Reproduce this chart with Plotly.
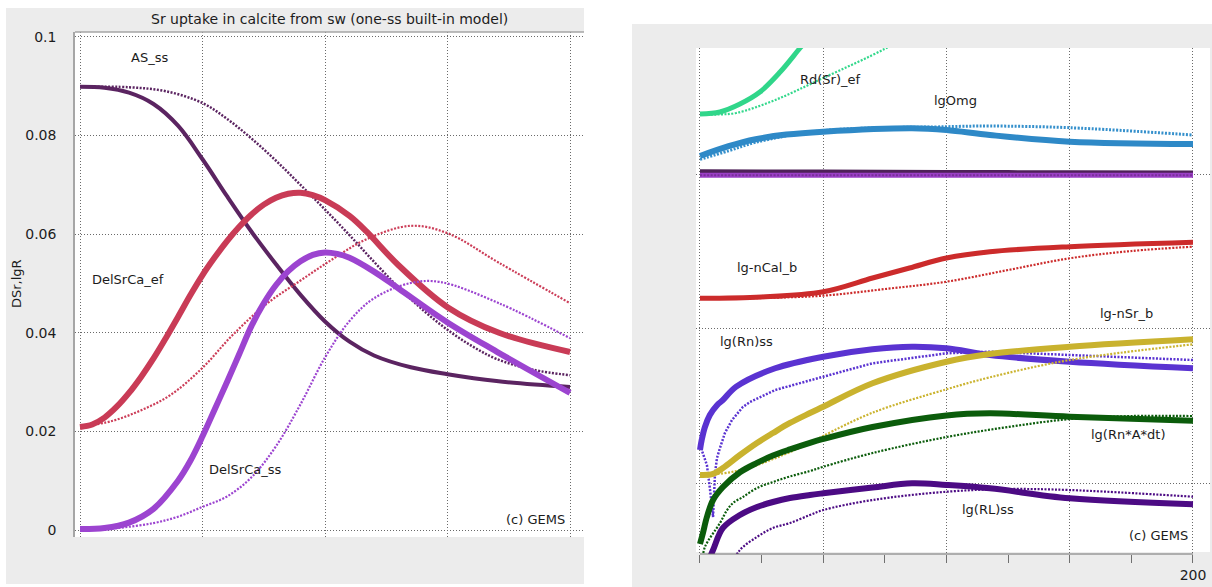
import plotly.graph_objects as go

W, H = 1212, 587

# ---------------- left panel: Sr distribution (DSr, lgR) vs time ----------------
t_as_ss = [0, 10, 20, 30, 40, 50, 60, 70, 80, 90, 100, 110, 120, 135, 150, 170, 200]
as_ss = [0.0899, 0.0897, 0.0887, 0.0864, 0.0820, 0.0752, 0.0677, 0.0605, 0.0539,
         0.0477, 0.0423, 0.0382, 0.0354, 0.0330, 0.0316, 0.0302, 0.0290]
t_as_ss_b = [0, 20, 35, 50, 60, 70, 80, 90, 100, 110, 120, 130, 140, 150, 160, 170, 185, 200]
as_ss_b = [0.0899, 0.0898, 0.0890, 0.0866, 0.0834, 0.0794, 0.0749, 0.0700, 0.0650,
           0.0598, 0.0544, 0.0492, 0.0446, 0.0406, 0.0373, 0.0347, 0.0325, 0.0314]

t_ef = [0, 5, 10, 15, 20, 25, 30, 35, 40, 45, 50, 55, 60, 65, 70, 75, 80, 85, 90, 95,
        100, 110, 117, 130, 150, 171, 200]
del_srca_ef = [0.0209, 0.0214, 0.0228, 0.0250, 0.0278, 0.0311, 0.0348, 0.0389, 0.0432,
               0.0476, 0.0517, 0.0553, 0.0586, 0.0615, 0.0640, 0.0660, 0.0674, 0.0682,
               0.0684, 0.0679, 0.0669, 0.0637, 0.0605, 0.0537, 0.0452, 0.0400, 0.0361]
t_ef_b = [0, 13, 25, 37, 50, 62, 76, 90, 103, 117, 135, 150, 171, 200]
del_srca_ef_b = [0.0209, 0.0221, 0.0243, 0.0274, 0.0329, 0.0394, 0.0458, 0.0506, 0.0549,
                 0.0590, 0.0617, 0.0602, 0.0542, 0.0460]

t_ss = [0, 10, 20, 30, 40, 45, 50, 55, 60, 65, 70, 75, 80, 85, 90, 95, 100, 105, 110,
        120, 130, 150, 170, 200]
del_srca_ss = [0.0002, 0.0004, 0.0015, 0.0043, 0.0100, 0.0140, 0.0190, 0.0245, 0.0300,
               0.0357, 0.0414, 0.0460, 0.0497, 0.0525, 0.0545, 0.0558, 0.0563, 0.0560,
               0.0552, 0.0524, 0.0490, 0.0421, 0.0362, 0.0278]
t_ss_b = [0, 15, 30, 40, 50, 60, 70, 80, 90, 100, 110, 120, 135, 147, 171, 200]
del_srca_ss_b = [0.0000, 0.0004, 0.0014, 0.0027, 0.0047, 0.0068, 0.0107, 0.0170, 0.0255,
                 0.0350, 0.0424, 0.0470, 0.0501, 0.0503, 0.0460, 0.0389]

left_yticks = [0, 0.02, 0.04, 0.06, 0.08, 0.1]
left_yticktext = ["0", "0.02", "0.04", "0.06", "0.08", "0.1"]

# ---------------- right panel: log quantities vs time ----------------
t_rd = [0, 8.1, 16.2, 24.3, 32.5, 40.6, 48.7]
rd_sr_ef = [0.777, 0.803, 0.906, 1.061, 1.320, 1.631, 1.942]
t_rd_b = [0, 7, 14.7, 30.5, 50, 75.6, 90]
rd_sr_ef_b = [0.764, 0.770, 0.790, 0.958, 1.243, 1.631, 1.903]

t_omg = [0, 11.6, 22.6, 35, 50, 86, 100, 117.6, 150, 200]
lg_omg = [0.233, 0.360, 0.450, 0.510, 0.548, 0.592, 0.570, 0.505, 0.418, 0.388]
t_omg_b = [0, 11.6, 22.6, 50, 100, 117.6, 150, 200]
lg_omg_b = [0.190, 0.300, 0.410, 0.561, 0.612, 0.621, 0.599, 0.505]

t_flat = [0, 50, 100, 150, 200]
lg_flat_a = [0.030, 0.025, 0.020, 0.016, 0.014]
lg_flat_b = [-0.015, -0.015, -0.015, -0.015, -0.015]

t_cal = [0, 25, 50, 70, 85, 100, 117.6, 150, 200]
lg_ncal_b = [-1.609, -1.592, -1.524, -1.346, -1.217, -1.087, -1.006, -0.941, -0.884]
t_cal_b = [0, 25, 50, 75, 100, 125, 150, 175, 200]
lg_ncal_b2 = [-1.618, -1.605, -1.575, -1.489, -1.394, -1.243, -1.091, -0.997, -0.941]

t_rn = [0, 0.7, 2, 4, 7, 9.3, 14.7, 30.5, 50, 70, 86, 100, 117.6, 150, 200]
lg_rn_ss = [-3.573, -3.443, -3.275, -3.120, -2.990, -2.926, -2.753, -2.515, -2.365,
            -2.269, -2.236, -2.256, -2.343, -2.430, -2.515]
t_rn_b = [0, 2.8, 4, 5.3, 6.1, 6.9, 8.1, 10.1, 13, 17.4, 20.3, 30.5, 50, 70, 100, 117.6, 150, 200]
lg_rn_ss_b = [-3.508, -3.767, -4.065, -4.440, -3.871, -3.676, -3.547, -3.353, -3.184,
              -3.016, -2.951, -2.796, -2.624, -2.450, -2.321, -2.300, -2.343, -2.408]

t_nsr = [0, 5.3, 9.3, 16.2, 23.1, 29.6, 36.5, 44.6, 50, 70, 100, 117.6, 150, 200]
lg_nsr_b = [-3.896, -3.883, -3.806, -3.638, -3.482, -3.353, -3.223, -3.094, -3.012,
            -2.709, -2.430, -2.330, -2.236, -2.140]
t_nsr_b = [0, 9.3, 16.2, 23.1, 29.6, 36.5, 44.6, 50, 70, 100, 117.6, 150, 200]
lg_nsr_b2 = [-3.896, -3.875, -3.835, -3.770, -3.690, -3.600, -3.480, -3.390, -3.090,
             -2.787, -2.632, -2.408, -2.205]

t_rad = [0, 1.2, 2.8, 5.3, 9.3, 16.2, 23.1, 29.6, 36.5, 44.6, 50, 70, 100, 117.6, 150, 200]
lg_rn_a_dt = [-4.790, -4.647, -4.440, -4.220, -4.052, -3.860, -3.740, -3.645, -3.565,
              -3.480, -3.430, -3.275, -3.125, -3.098, -3.142, -3.193]
t_rad_b = [1, 2, 8.1, 11, 13.4, 17.4, 23.1, 29.6, 36.5, 44.6, 50, 70, 100, 125, 150, 175, 200]
lg_rn_a_dt_b = [-4.997, -4.828, -4.518, -4.350, -4.259, -4.181, -4.065, -3.987, -3.915,
                -3.845, -3.790, -3.612, -3.405, -3.275, -3.172, -3.133, -3.133]

t_rl = [2.8, 5.3, 9.3, 16.2, 23.1, 29.6, 36.5, 44.6, 50, 70, 86, 100, 117.6, 150, 200]
lg_rl_ss = [-5.060, -4.867, -4.582, -4.414, -4.311, -4.246, -4.194, -4.155, -4.133,
            -4.058, -4.004, -4.026, -4.069, -4.198, -4.276]
t_rl_b = [13, 16.2, 23.1, 29.6, 36.5, 44.6, 50, 70, 100, 125, 150, 200]
lg_rl_ss_b = [-5.050, -4.867, -4.699, -4.582, -4.518, -4.414, -4.350, -4.220, -4.113,
              -4.078, -4.091, -4.177]

right_xticks = [0, 50, 100, 150, 200]
right_xticktext = ["", "", "", "", "200"]
right_minor_xticks = [25, 75, 125, 175]

LEFT_XRANGE = [-2.04, 205.7]
LEFT_YRANGE = [-0.00142, 0.10101]
RIGHT_XRANGE = [-1.62, 206.9]
RIGHT_YRANGE = [-4.919, 1.631]

DOT = "2px,1.5px"
GRID = dict(showgrid=True, gridcolor="#6a6a6a", gridwidth=1, griddash="1px,2px", zeroline=False)


def curve(x, y, color, width, xa, ya, dotted=False, shape="spline"):
    return go.Scatter(
        x=x, y=y, mode="lines", xaxis=xa, yaxis=ya, showlegend=False, hoverinfo="skip",
        line=dict(color=color, width=width, dash=DOT if dotted else "solid",
                  shape=shape, smoothing=1.0 if shape == "spline" else None),
    )


fig = go.Figure()

# left panel curves
fig.add_trace(curve(t_as_ss_b, as_ss_b, "#5b2461", 2.5, "x", "y", dotted=True))
fig.add_trace(curve(t_as_ss, as_ss, "#5b2461", 4, "x", "y"))
fig.add_trace(curve(t_ef_b, del_srca_ef_b, "#cc3d58", 2.2, "x", "y", dotted=True))
fig.add_trace(curve(t_ef, del_srca_ef, "#c93b56", 6, "x", "y"))
fig.add_trace(curve(t_ss_b, del_srca_ss_b, "#9c44d0", 2.2, "x", "y", dotted=True))
fig.add_trace(curve(t_ss, del_srca_ss, "#9c44d0", 6, "x", "y"))

# right panel curves
fig.add_trace(curve(t_rd_b, rd_sr_ef_b, "#33d88c", 2.2, "x2", "y2", dotted=True))
fig.add_trace(curve(t_rd, rd_sr_ef, "#30d68a", 5, "x2", "y2"))
fig.add_trace(curve(t_omg_b, lg_omg_b, "#3590cc", 3, "x2", "y2", dotted=True))
fig.add_trace(curve(t_omg, lg_omg, "#2e89c7", 6, "x2", "y2"))
fig.add_trace(curve(t_flat, lg_flat_a, "#4e2058", 5, "x2", "y2"))
fig.add_trace(curve(t_flat, lg_flat_b, "#9b3fc6", 5, "x2", "y2"))
fig.add_trace(curve(t_flat, lg_flat_b, "#7a2f9a", 2, "x2", "y2", dotted=True))
fig.add_trace(curve(t_cal_b, lg_ncal_b2, "#cc2b2b", 2.2, "x2", "y2", dotted=True))
fig.add_trace(curve(t_cal, lg_ncal_b, "#cc2b2b", 5, "x2", "y2"))
fig.add_trace(curve(t_rn_b, lg_rn_ss_b, "#5a33d1", 2.5, "x2", "y2", dotted=True, shape="linear"))
fig.add_trace(curve(t_rn, lg_rn_ss, "#5a33d1", 6, "x2", "y2"))
fig.add_trace(curve(t_nsr_b, lg_nsr_b2, "#cbb431", 2.2, "x2", "y2", dotted=True))
fig.add_trace(curve(t_nsr, lg_nsr_b, "#c9b22e", 6, "x2", "y2"))
fig.add_trace(curve(t_rad_b, lg_rn_a_dt_b, "#0b5c0b", 2.2, "x2", "y2", dotted=True))
fig.add_trace(curve(t_rad, lg_rn_a_dt, "#0b5c0b", 6, "x2", "y2"))
fig.add_trace(curve(t_rl_b, lg_rl_ss_b, "#4c0b84", 2.2, "x2", "y2", dotted=True))
fig.add_trace(curve(t_rl, lg_rl_ss, "#4c0b84", 6, "x2", "y2"))


def fx(p):
    return p / W


def fy(p):
    return 1 - p / H


FONT = "DejaVu Sans"
TXT = "#1c1c1c"
PANEL = "#ececec"

fig.update_layout(
    template="none",
    width=W, height=H,
    margin=dict(l=0, r=0, t=0, b=0, pad=0),
    paper_bgcolor="#ffffff", plot_bgcolor="#ffffff",
    font=dict(family=FONT, color=TXT),
    xaxis=dict(domain=[fx(75), fx(584)], range=LEFT_XRANGE, anchor="y",
               tickvals=right_xticks, showticklabels=False, ticks="", showline=False, **GRID),
    yaxis=dict(domain=[fy(537), fy(32)], range=LEFT_YRANGE, anchor="x",
               tickvals=left_yticks, ticktext=left_yticktext, ticks="outside", ticklen=14,
               tickcolor="rgba(0,0,0,0)", tickfont=dict(size=14, color=TXT),
               showline=True, linecolor="#a6a6a6", linewidth=1.5, **GRID),
    xaxis2=dict(domain=[fx(696), fx(1210)], range=RIGHT_XRANGE, anchor="y2",
                tickvals=right_xticks, ticktext=right_xticktext, ticks="outside", ticklen=8,
                tickcolor="#707070", tickwidth=1, tickfont=dict(size=14, color=TXT),
                minor=dict(tickvals=right_minor_xticks, ticks="outside", ticklen=8,
                           tickcolor="#707070", tickwidth=1, showgrid=False),
                showline=False, **GRID),
    yaxis2=dict(domain=[fy(554), fy(48)], range=RIGHT_YRANGE, anchor="x2",
                tickvals=[-4, -2, 0], showticklabels=False, ticks="", showline=False, **GRID),
)


# grey panel frames around the white plotting areas (drawn as strips)
def strip(x0, x1, y0, y1):
    fig.add_shape(type="rect", xref="paper", yref="paper", x0=fx(x0), x1=fx(x1),
                  y0=fy(y1), y1=fy(y0), fillcolor=PANEL, line_width=0, layer="below")


strip(6, 584, 8, 32)
strip(6, 584, 537, 584)
strip(6, 75, 32, 537)
strip(632, 1212, 24, 48)
strip(632, 1212, 552, 587)
strip(632, 696, 48, 552)
strip(1210, 1212, 48, 552)

fig.add_shape(type="line", xref="paper", yref="paper", x0=fx(75), x1=fx(584), y0=fy(32), y1=fy(32),
              line=dict(color="#a6a6a6", width=1.5))
fig.add_shape(type="line", xref="x2", yref="paper", x0=0, x1=200, y0=fy(554), y1=fy(554),
              line=dict(color="#707070", width=1))


# texts
def label(text, x, y, size=13, xanchor="center", angle=0):
    fig.add_annotation(text=text, x=fx(x), y=fy(y), xref="paper", yref="paper",
                       xanchor=xanchor, yanchor="middle", showarrow=False, textangle=angle,
                       font=dict(family=FONT, size=size, color=TXT))


label("Sr uptake in calcite from sw (one-ss built-in model)", 329, 19, size=14)
label("DSr,lgR", 17, 284, angle=-90)
label("AS_ss", 149, 58)
label("DelSrCa_ef", 128, 280)
label("DelSrCa_ss", 245, 469)
label("(c) GEMS", 567, 519, xanchor="right")

label("Rd(Sr)_ef", 830, 79)
label("lgOmg", 955, 100)
label("lg-nCal_b", 767, 267)
label("lg-nSr_b", 1126, 313)
label("lg(Rn)ss", 746, 341)
label("lg(Rn*A*dt)", 1128, 434)
label("lg(RL)ss", 988, 509)
label("(c) GEMS", 1190, 535, xanchor="right")

fig.write_html("out.html")
